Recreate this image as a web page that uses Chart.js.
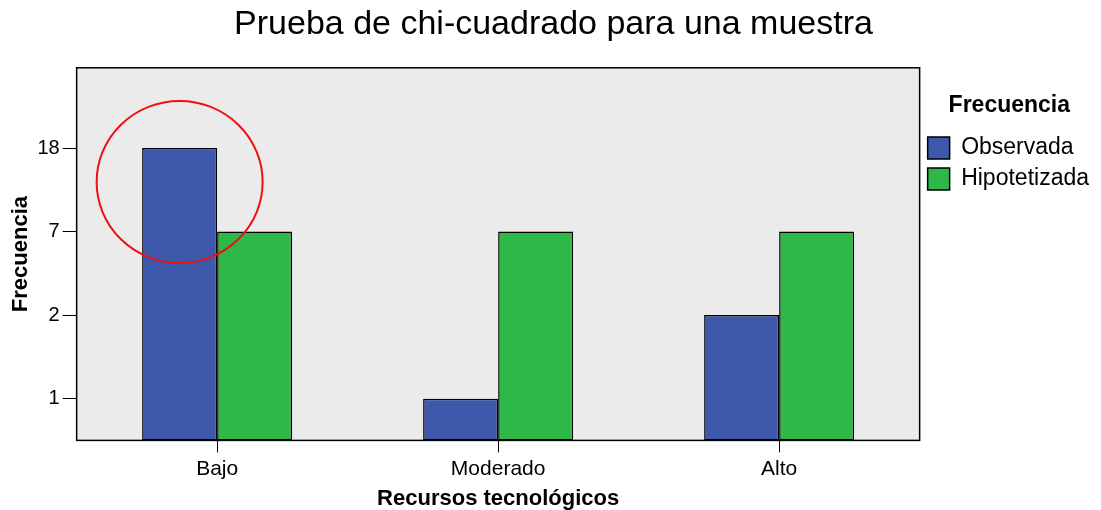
<!DOCTYPE html>
<html>
<head>
<meta charset="utf-8">
<script src="https://cdn.jsdelivr.net/npm/chart.js@4.4.1/dist/chart.umd.min.js"></script>
<style>
  body { margin: 0; background: #fff; }
  #wrap { width: 1101px; height: 510px; }
</style>
</head>
<body>
<div id="wrap"><canvas id="chart"></canvas></div>
<script>
// values
const categories = ['Bajo', 'Moderado', 'Alto'];
const observada = [18, 1, 2];
const hipotetizada = [7, 7, 7];
// the y axis in the original is ordinal: each distinct frequency gets one step
const tickValues = [1, 2, 7, 18];

const toRank = v => tickValues.indexOf(v) + 1;

const frame = {
    id: 'frame',
    beforeDraw(chart) {
        const a = chart.chartArea;
        const ctx = chart.ctx;
        ctx.save();
        ctx.fillStyle = '#ebebeb';
        ctx.fillRect(a.left, a.top, a.right - a.left, a.bottom - a.top);
        ctx.restore();
    },
    afterDatasetsDraw(chart) {
        const a = chart.chartArea;
        const ctx = chart.ctx;
        ctx.save();
        ctx.strokeStyle = '#000';
        ctx.lineWidth = 1.5;
        ctx.strokeRect(a.left, a.top, a.right - a.left, a.bottom - a.top);
        // red circle the author drew round the first bar
        const bar = chart.getDatasetMeta(0).data[0];
        ctx.strokeStyle = '#ee1111';
        ctx.lineWidth = 2;
        ctx.beginPath();
        ctx.ellipse(bar.x, bar.y + 34, 83, 81, 0, 0, Math.PI * 2);
        ctx.stroke();
        ctx.restore();
    }
};

const ctx = document.getElementById('chart').getContext('2d');
new Chart(ctx, {
    type: 'bar',
    data: {
        labels: categories,
        datasets: [
            { label: 'Observada', data: observada.map(toRank), backgroundColor: '#3e58ac' },
            { label: 'Hipotetizada', data: hipotetizada.map(toRank), backgroundColor: '#2eb848' }
        ]
    },
    options: {
        responsive: true,
        maintainAspectRatio: false,
        animation: false,
        layout: { padding: { left: 8, right: 2, bottom: 0 } },
        datasets: {
            bar: {
                base: 0.5,
                borderColor: '#000',
                borderWidth: 1.5,
                borderSkipped: false,
                barPercentage: 1,
                categoryPercentage: 0.534
            }
        },
        plugins: {
            title: {
                display: true,
                text: 'Prueba de chi-cuadrado para una muestra',
                color: '#000',
                font: { family: 'Liberation Sans', size: 34, weight: 'normal' },
                padding: { top: 4, bottom: 23 }
            },
            legend: {
                position: 'right',
                align: 'start',
                fullSize: false,
                title: {
                    display: true,
                    text: 'Frecuencia',
                    color: '#000',
                    font: { family: 'Liberation Sans', size: 23, weight: 'bold' },
                    padding: { top: 26, bottom: 7 }
                },
                labels: {
                    color: '#000',
                    boxWidth: 22,
                    boxHeight: 22,
                    padding: 8,
                    font: { family: 'Liberation Sans', size: 23 }
                }
            },
            tooltip: { enabled: false }
        },
        scales: {
            x: {
                grid: { offset: false, drawOnChartArea: false, color: '#000', tickLength: 12 },
                border: { color: '#000' },
                ticks: { color: '#000', font: { family: 'Liberation Sans', size: 21 }, padding: 4 },
                title: {
                    display: true,
                    text: 'Recursos tecnológicos',
                    color: '#000',
                    font: { family: 'Liberation Sans', size: 22, weight: 'bold' },
                    padding: { top: 0, bottom: -2 }
                }
            },
            y: {
                min: 0.5,
                max: 4.96,
                afterBuildTicks: axis => {
                    axis.ticks = tickValues.map((v, i) => ({ value: i + 1 }));
                },
                grid: { drawOnChartArea: false, color: '#000', tickLength: 14 },
                border: { color: '#000' },
                ticks: {
                    color: '#000',
                    font: { family: 'Liberation Sans', size: 20 },
                    padding: 3,
                    callback: (value, index) => tickValues[index]
                },
                title: {
                    display: true,
                    text: 'Frecuencia',
                    color: '#000',
                    font: { family: 'Liberation Sans', size: 22, weight: 'bold' },
                    padding: { top: 0, bottom: 0 }
                }
            }
        }
    },
    plugins: [frame]
});
</script>
</body>
</html>
